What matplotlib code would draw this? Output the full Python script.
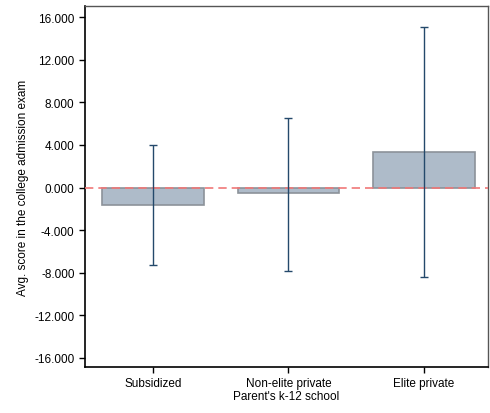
import matplotlib.pyplot as plt
from matplotlib.ticker import FormatStrFormatter

plt.rcParams['font.family'] = ['Liberation Sans', 'DejaVu Sans']

schools = ['Subsidized', 'Non-elite private', 'Elite private']
means = [-1.6, -0.55, 3.3]
ci_low = [-7.3, -7.8, -8.4]
ci_high = [4.0, 6.5, 15.1]

x = list(range(len(schools)))
err_lo = [m - l for m, l in zip(means, ci_low)]
err_hi = [h - m for m, h in zip(means, ci_high)]

fig = plt.figure(figsize=(4.9, 4.14), dpi=100)
ax = fig.add_axes([0.1735, 0.111, 0.822, 0.872])

ax.bar(x, means, width=0.75, color='#aebbc9', edgecolor='#8c9299', linewidth=1.2, zorder=2)
ax.axhline(0, color='#f07878', linestyle=(0, (5, 3)), linewidth=1.2, zorder=3)
ax.errorbar(x, means, yerr=[err_lo, err_hi], fmt='none', ecolor='#24496b',
            elinewidth=1.0, capsize=2.8, capthick=1.0, zorder=4)

ax.set_xlim(-0.5, 2.47)
ax.set_ylim(-16.85, 17.03)
ax.set_yticks([16, 12, 8, 4, 0, -4, -8, -12, -16])
ax.yaxis.set_major_formatter(FormatStrFormatter('%.3f'))
ax.set_xticks(x)
ax.set_xticklabels(schools)
ax.tick_params(direction='out', length=4, width=1, labelsize=8.5, colors='black')
ax.set_ylabel('Avg. score in the college admission exam', fontsize=8.5, labelpad=4)
ax.set_xlabel("Parent's k-12 school", fontsize=8.5, labelpad=0.5)

for side in ['left', 'bottom']:
    ax.spines[side].set_linewidth(1.2)
for side in ['top', 'right']:
    ax.spines[side].set_linewidth(1.0)
    ax.spines[side].set_color('#555555')

fig.savefig('out.png', dpi=100)
